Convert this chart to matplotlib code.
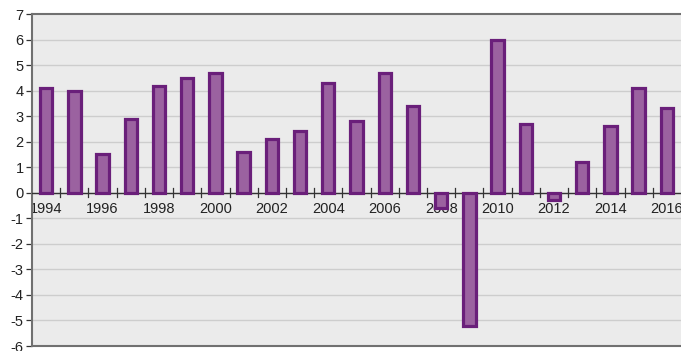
import matplotlib.pyplot as plt
from matplotlib import transforms

plt.rcParams['font.family'] = ['Liberation Sans', 'DejaVu Sans']
plt.rcParams['axes.unicode_minus'] = False

# 数据
years = list(range(1994, 2017))
values = [4.1, 4.0, 1.5, 2.9, 4.2, 4.5, 4.7, 1.6, 2.1, 2.4, 4.3, 2.8,
          4.7, 3.4, -0.6, -5.2, 6.0, 2.7, -0.3, 1.2, 2.6, 4.1, 3.3]
y_ticks = list(range(-6, 8))

fig = plt.figure(figsize=(6.81, 3.51), dpi=100)
ax = fig.add_axes([32 / 681, 5 / 351, 649 / 681, 332 / 351])
ax.set_facecolor('#ebebeb')

x = list(range(len(years)))
ax.set_xlim(-0.5, len(years) - 0.5)
ax.set_ylim(-6, 7)

# 网格线
for yv in y_ticks[1:-1]:
    ax.axhline(yv, color='#cdcdcd', lw=1.0, zorder=1)

# 年份标签（每隔一年）
offset = transforms.ScaledTranslation(0, -7 / 72, fig.dpi_scale_trans)
for i, yr in enumerate(years):
    if i % 2 == 0:
        ax.text(i, 0, str(yr), ha='center', va='top', fontsize=10.5,
                color='#222222', zorder=2, transform=ax.transData + offset)

# 零线和分隔刻度
ax.axhline(0, color='#333333', lw=1.0, zorder=3)
for i in range(1, len(years)):
    ax.plot([i - 0.5, i - 0.5], [-0.18, 0.18], color='#333333', lw=0.9, zorder=3)

# 柱子
ax.bar(x, values, width=0.44, color='#9b62a0', edgecolor='#6a1f7a',
       linewidth=2.3, zorder=4)

ax.set_xticks([])
ax.set_yticks(y_ticks)
ax.tick_params(axis='y', length=4, width=0.9, color='#333333', labelsize=10.5,
               labelcolor='#222222', pad=2)
for s in ['left', 'top', 'bottom']:
    ax.spines[s].set_color('#707070')
    ax.spines[s].set_linewidth(1.5)
ax.spines['right'].set_visible(False)

fig.savefig('out.png', dpi=100)
